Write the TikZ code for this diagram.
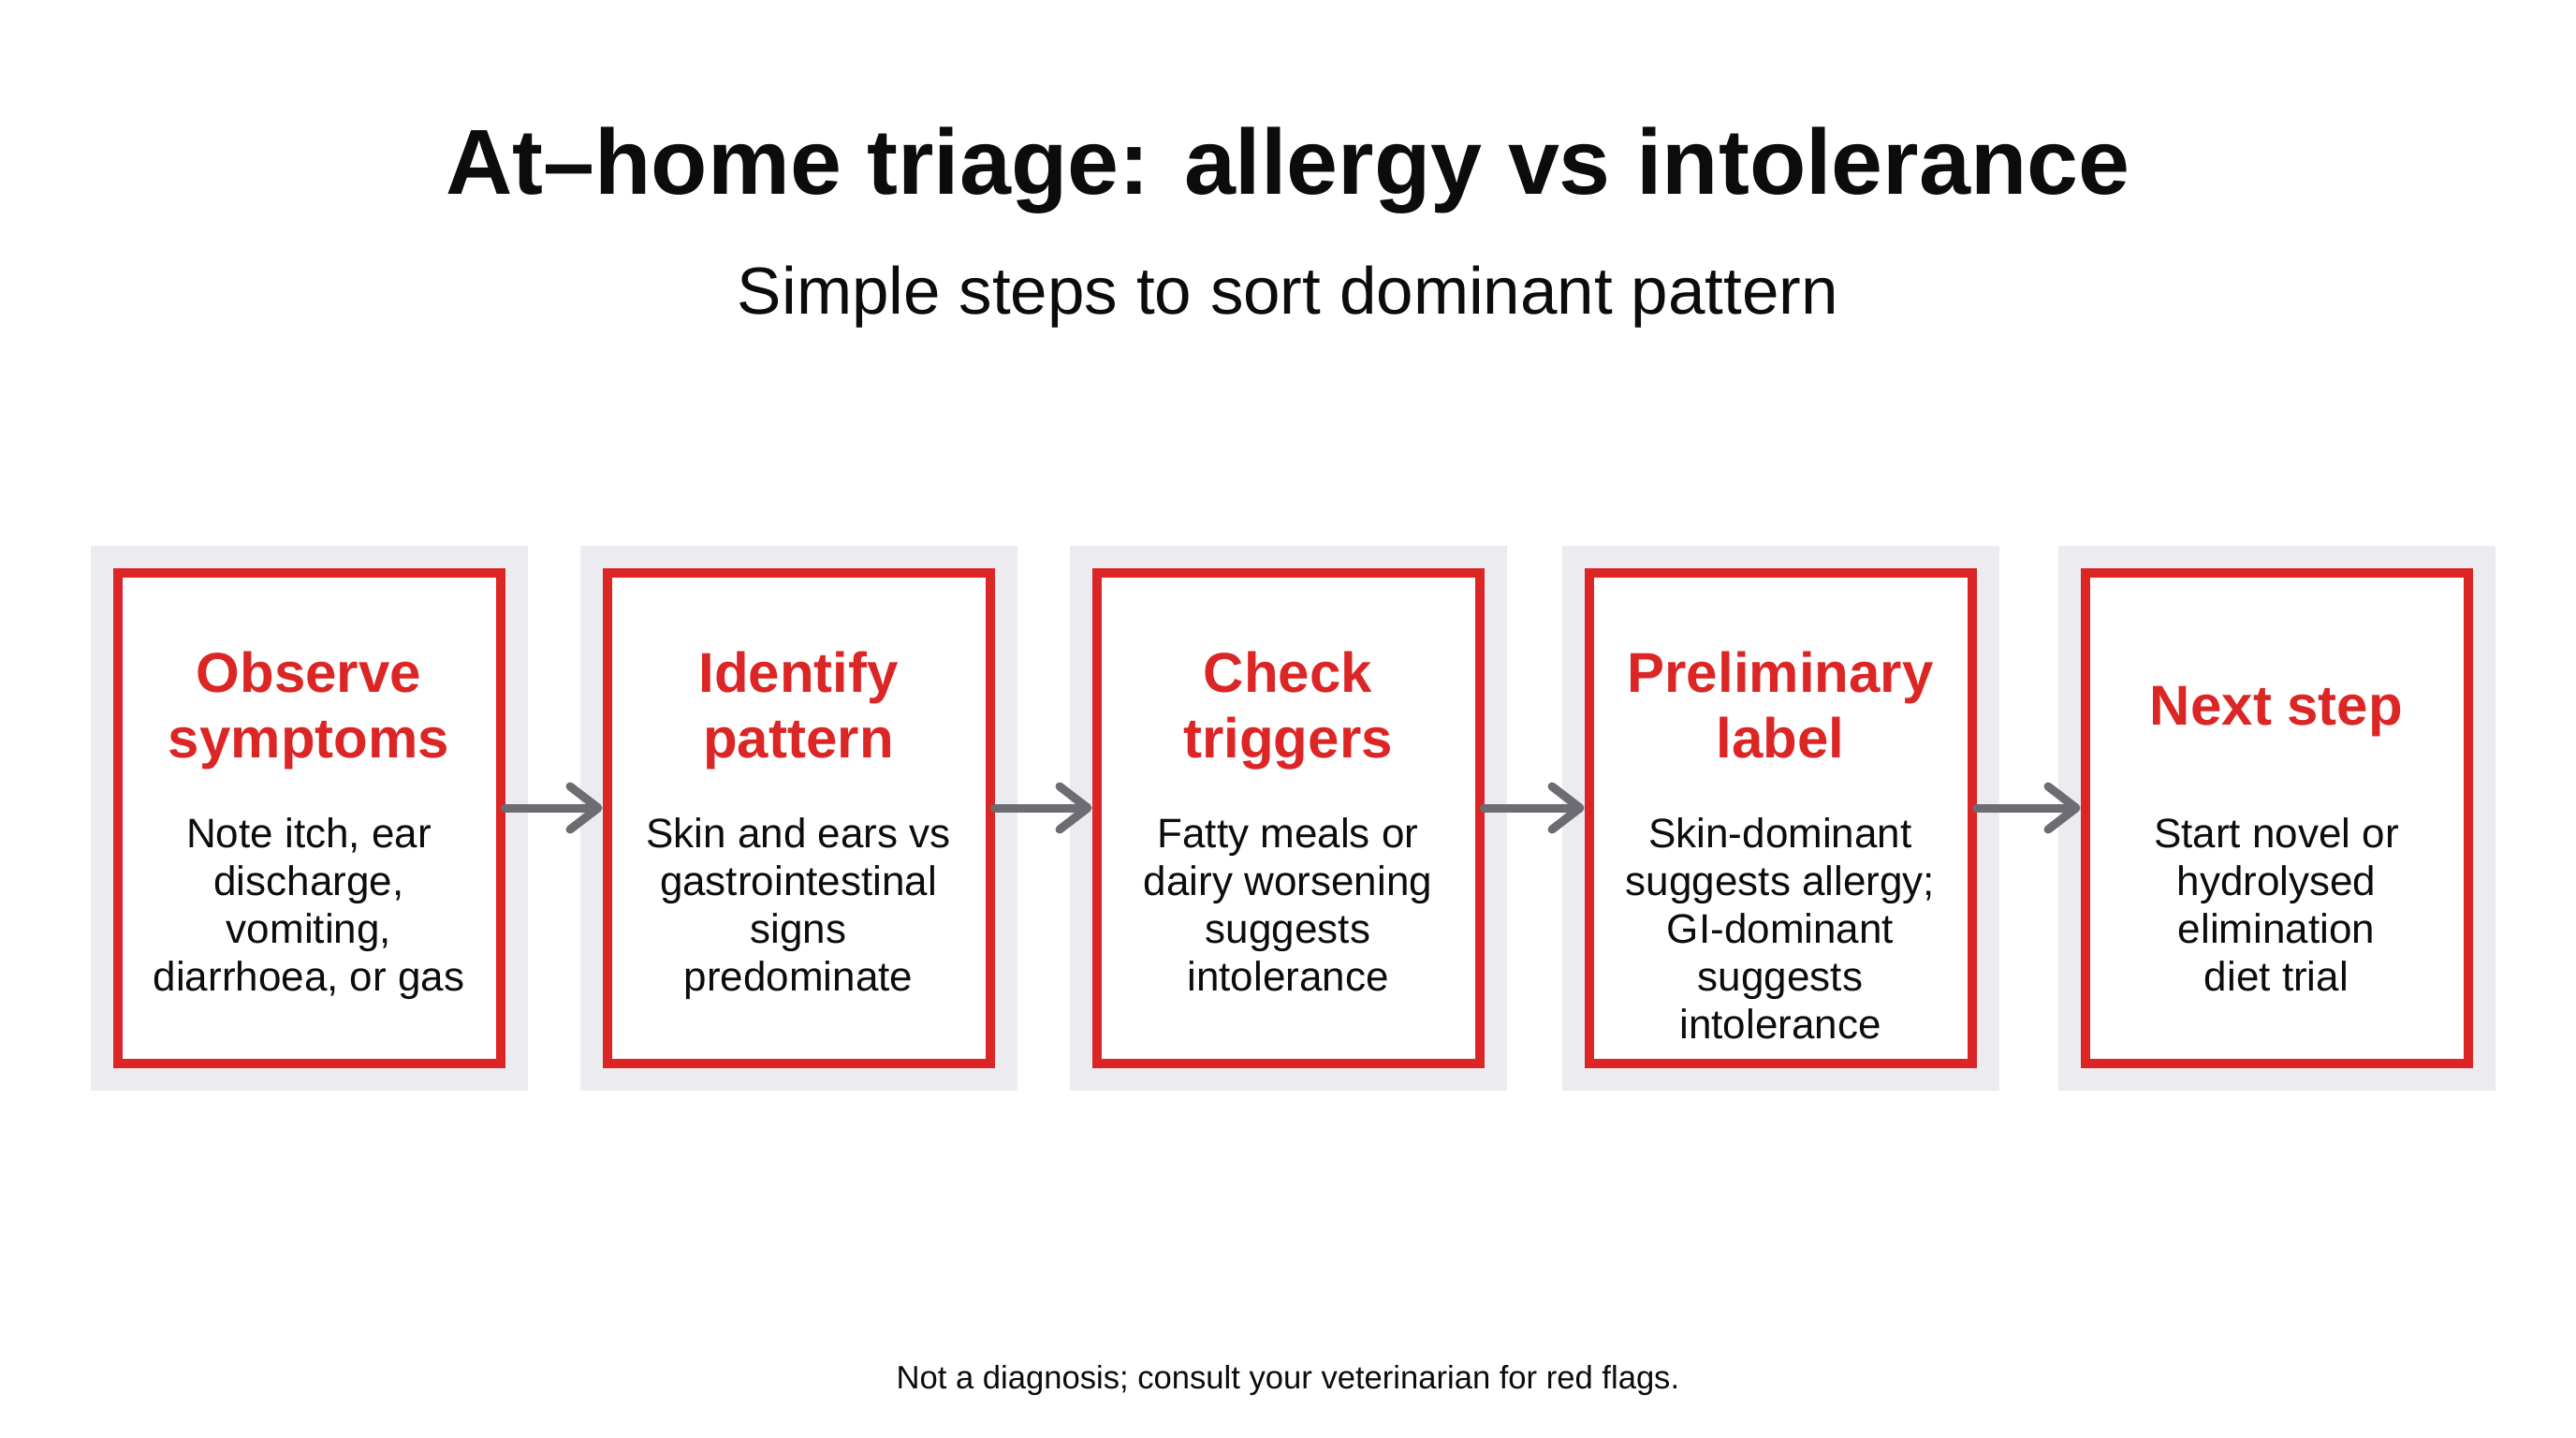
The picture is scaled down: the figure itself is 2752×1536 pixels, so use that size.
\documentclass[tikz,border=0pt]{standalone}
\usepackage{fontspec}
\setmainfont{Liberation Sans}
\usetikzlibrary{arrows.meta}
\definecolor{redbox}{RGB}{220,38,38}
\definecolor{panelgray}{RGB}{235,235,240}
\definecolor{arrowgray}{RGB}{108,108,114}
\definecolor{ink}{RGB}{12,12,12}
\begin{document}
\begin{tikzpicture}[x=1pt,y=-1pt,
  panel/.style={rectangle, fill=panelgray, minimum width=467pt, minimum height=582pt, inner sep=0pt},
  redframe/.style={rectangle, draw=redbox, line width=10pt, fill=white, minimum width=409pt, minimum height=524pt, inner sep=0pt},
  steptitle/.style={text=redbox, font=\bfseries\fontsize{60}{70}\selectfont, align=center, inner sep=0pt, anchor=center},
  stepbody/.style={text=ink, font=\fontsize{44}{51}\selectfont, align=center, inner sep=0pt, anchor=north},
  flow/.style={draw=arrowgray, line width=9pt, line cap=round, -{Straight Barb[length=30pt, width=46pt, line cap=round, line join=round]}},
  headline/.style={text=ink, inner sep=0pt, anchor=base}
]
\useasboundingbox[fill=white] (0,0) rectangle (2752,1536);

\node[headline, font=\bfseries\fontsize{98.8}{110}\selectfont] (title) at (1376,207) {At–home triage: allergy vs intolerance};
\node[headline, font=\fontsize{71}{80}\selectfont] (subtitle) at (1376,335) {Simple steps to sort dominant pattern};
\node[headline, font=\fontsize{34.6}{40}\selectfont] (footer) at (1376,1483) {Not a diagnosis; consult your veterinarian for red flags.};

\foreach \i/\cx in {1/330, 2/853, 3/1376, 4/1902, 5/2432} {
  \node[panel] (p\i) at (\cx,874) {};
  \node[redframe] (b\i) at (\cx,874) {};
}

\node[steptitle] (t1) at (330,760) {\strut Observe\\symptoms\strut};
\node[stepbody] (d1) at (330,870) {\strut Note itch, ear\\discharge,\\vomiting,\\diarrhoea, or gas};

\node[steptitle] (t2) at (853,760) {\strut Identify\\pattern\strut};
\node[stepbody] (d2) at (853,870) {\strut Skin and ears vs\\gastrointestinal\\signs\\predominate};

\node[steptitle] (t3) at (1376,760) {\strut Check\\triggers\strut};
\node[stepbody] (d3) at (1376,870) {\strut Fatty meals or\\dairy worsening\\suggests\\intolerance};

\node[steptitle] (t4) at (1902,760) {\strut Preliminary\\label\strut};
\node[stepbody] (d4) at (1902,870) {\strut Skin-dominant\\suggests allergy;\\GI-dominant\\suggests\\intolerance};

\node[steptitle] (t5) at (2432,760) {\strut Next step\strut};
\node[stepbody] (d5) at (2432,870) {\strut Start novel or\\hydrolysed\\elimination\\diet trial};

\foreach \a/\b in {1/2, 2/3, 3/4, 4/5} {
  \draw[flow] ([yshift=11pt]b\a.east) -- ([yshift=11pt]b\b.west);
}
\end{tikzpicture}
\end{document}
